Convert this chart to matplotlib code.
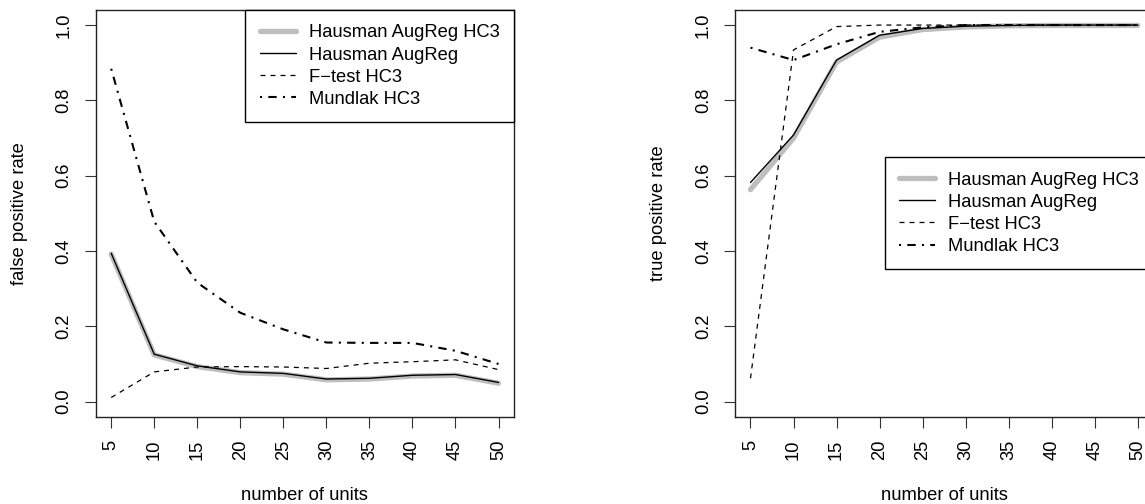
import matplotlib
matplotlib.use("Agg")
import matplotlib.pyplot as plt

units = [5, 10, 15, 20, 25, 30, 35, 40, 45, 50]

# false positive rate (left panel)
haus_hc3_fp = [0.392, 0.124, 0.093, 0.077, 0.073, 0.058, 0.060, 0.068, 0.070, 0.049]
haus_fp = [0.394, 0.126, 0.095, 0.079, 0.075, 0.060, 0.062, 0.070, 0.072, 0.051]
ftest_fp = [0.011, 0.079, 0.092, 0.093, 0.092, 0.088, 0.102, 0.106, 0.111, 0.085]
mundlak_fp = [0.884, 0.478, 0.316, 0.236, 0.192, 0.157, 0.156, 0.156, 0.135, 0.100]

# true positive rate (right panel)
haus_hc3_tp = [0.563, 0.700, 0.902, 0.968, 0.988, 0.995, 0.998, 0.999, 0.999, 0.999]
haus_tp = [0.582, 0.708, 0.907, 0.973, 0.991, 0.997, 0.999, 1.0, 1.0, 1.0]
ftest_tp = [0.062, 0.934, 0.996, 1.0, 1.0, 1.0, 1.0, 1.0, 1.0, 1.0]
mundlak_tp = [0.940, 0.907, 0.949, 0.982, 0.994, 1.0, 1.0, 1.0, 1.0, 1.0]

labels = ["Hausman AugReg HC3", "Hausman AugReg", "F\u2212test HC3", "Mundlak HC3"]
yticks = [0.0, 0.2, 0.4, 0.6, 0.8, 1.0]

plt.rcParams['font.family'] = ['Liberation Sans', 'DejaVu Sans']
FS = 13.25

fig = plt.figure(figsize=(11.45, 5.04), dpi=100)
W, H = 1145, 504
ax_w = (514 - 95.7) / W
ax_h = (416.7 - 10) / H
ax_b = (H - 416.7) / H
ax1 = fig.add_axes([95.7 / W, ax_b, ax_w, ax_h])
ax2 = fig.add_axes([735 / W, ax_b, ax_w, ax_h])


def panel(ax, s1, s2, s3, s4, ylabel, legloc, anchor):
    ax.plot(units, s1, color="#BEBEBE", lw=3.8, solid_capstyle='round',
            solid_joinstyle='round', label=labels[0])
    ax.plot(units, s2, color="black", lw=1.0, solid_capstyle='round',
            solid_joinstyle='round', label=labels[1])
    ax.plot(units, s3, color="black", lw=0.9, linestyle=(0, (4, 4)), label=labels[2])
    ax.plot(units, s4, color="black", lw=1.5, linestyle=(0, (1, 3, 4, 3)), label=labels[3])
    ax.set_xlim(3.2, 51.8)
    ax.set_ylim(-0.04, 1.04)
    ax.set_xticks(units)
    ax.set_xticklabels([str(u) for u in units], rotation=90, fontsize=FS)
    ax.set_yticks(yticks)
    ax.set_yticklabels(["%.1f" % v for v in yticks], rotation=90, fontsize=FS,
                       va='center')
    ax.tick_params(axis='both', direction='out', length=8, width=0.8, color='#333333')
    ax.tick_params(axis='x', pad=8.4)
    ax.tick_params(axis='y', pad=8.7)
    for sp in ax.spines.values():
        sp.set_linewidth(1.0)
        sp.set_color('#222222')
    ax.set_xlabel("number of units", fontsize=FS)
    ax.xaxis.set_label_coords(0.5, -0.174)
    ax.set_ylabel(ylabel, fontsize=FS)
    ax.yaxis.set_label_coords(-0.162, 0.5)
    leg = ax.legend(loc=legloc, bbox_to_anchor=anchor, borderaxespad=0,
                    fontsize=FS, fancybox=False, framealpha=1, edgecolor='black',
                    borderpad=0.78, handlelength=1.97, handletextpad=0.7,
                    labelspacing=0.28)
    leg.get_frame().set_linewidth(1.0)


panel(ax1, haus_hc3_fp, haus_fp, ftest_fp, mundlak_fp, "false positive rate",
      'upper right', (1, 1))
panel(ax2, haus_hc3_tp, haus_tp, ftest_tp, mundlak_tp, "true positive rate",
      'center right', (1, 0.5))

fig.savefig("out.png", dpi=100)
